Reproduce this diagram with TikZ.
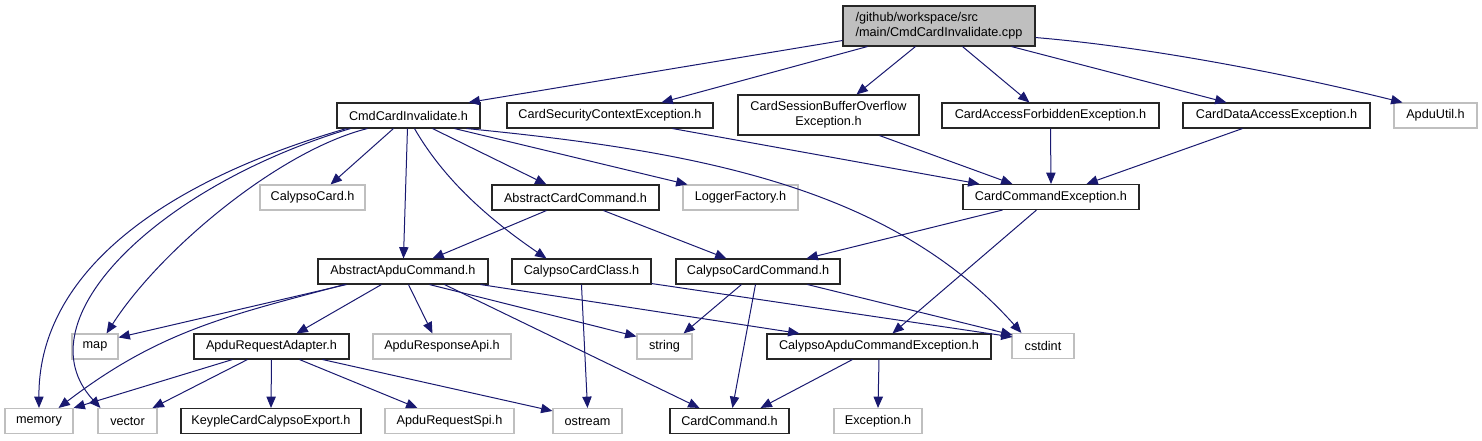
\documentclass[tikz,border=0pt]{standalone}
\usepackage{fontspec}
\setmainfont{Liberation Sans}
\usetikzlibrary{arrows.meta,calc}
\definecolor{edgeblue}{HTML}{191970}
\definecolor{sysgray}{HTML}{BFBFBF}

\tikzset{
  incl/.style={draw=black!85, line width=0.8pt, inner sep=0pt, minimum height=18.75pt},
  sysincl/.style={draw=sysgray, line width=0.8pt, inner sep=0pt, minimum height=18.75pt},
  dep/.style={draw=edgeblue, line width=0.75pt, -{Triangle[length=8.5pt,width=7pt]}}
}

\begin{document}
\begin{tikzpicture}[x=0.75pt,y=-0.75pt,font=\fontsize{9.5}{11}\selectfont]
  \useasboundingbox (0,0) rectangle (1482,440);
  % the file itself
  \node[incl, fill=sysgray, minimum width=144pt, minimum height=30pt, align=left] (root) at (939,26)
    {/github/workspace/src\\/main/CmdCardInvalidate.cpp};
  \node[incl, minimum width=135.75pt, minimum height=30pt, align=center] (csbo) at (828.5,115)
    {CardSessionBufferOverflow\\Exception.h};
  % project headers: name/x/y/width(pt)/label
  \foreach \nm/\x/\y/\w/\lbl in {
    cmdh/408.5/115.5/107.25/CmdCardInvalidate.h,
    cscex/610/115.5/154.5/CardSecurityContextException.h,
    cafex/1050.5/115.5/162.75/CardAccessForbiddenException.h,
    cdaex/1276.5/115.5/140.25/CardDataAccessException.h,
    acc/575.5/197.5/125.25/AbstractCardCommand.h,
    ccex/1051/197/132/CardCommandException.h,
    aac/403/271.5/127.5/AbstractApduCommand.h,
    cccls/581.5/271.5/104.25/CalypsoCardClass.h,
    cccmd/758/271.5/123/CalypsoCardCommand.h,
    ara/271.5/346.5/116.25/ApduRequestAdapter.h,
    cace/879/346.5/168/CalypsoApduCommandException.h,
    kcce/271/421/135/KeypleCardCalypsoExport.h,
    cardcmd/729.5/421/89.25/CardCommand.h} {
    \node[incl, minimum width=\w pt] (\nm) at (\x,\y) {\lbl};
  }
  % headers without documentation
  \foreach \nm/\x/\y/\w/\lbl in {
    apduutil/1435.5/115.5/62.25/ApduUtil.h,
    calypsocard/312.5/197.5/78.75/CalypsoCard.h,
    logger/740.5/197.5/86.25/LoggerFactory.h,
    map/95/346.5/34.5/map,
    aresp/442/346.5/103.5/ApduResponseApi.h,
    string/664.5/346.5/41.25/string,
    cstdint/1043/346/46.5/cstdint,
    memory/39/421/51/memory,
    vector/127.5/421/44.25/vector,
    arspi/449.5/421/96.75/ApduRequestSpi.h,
    ostream/587.5/421/51.75/ostream,
    exception/878/421/66/Exception.h} {
    \node[sysincl, minimum width=\w pt] (\nm) at (\x,\y) {\lbl};
  }

  % from the cpp file
  \draw[dep] ($(root.south west)+(0,-6)$) -- ($(cmdh.north east)+(-12,0)$);
  \draw[dep] ($(root.south west)+(25,0)$) -- ($(cscex.north west)+(155,0)$);
  \draw[dep] ($(root.south west)+(73,0)$) -- ($(csbo.north west)+(119,0)$);
  \draw[dep] ($(root.south west)+(120,0)$) -- ($(cafex.north west)+(88,0)$);
  \draw[dep] ($(root.south west)+(169,0)$) -- ($(cdaex.north west)+(44,0)$);
  \draw[dep] ($(root.south east)+(0,-9)$) .. controls +(120,10) and +(-100,-25) .. ($(apduutil.north west)+(9,0)$);

  % CmdCardInvalidate.h
  \draw[dep] ($(cmdh.south west)+(10,0)$) .. controls +(-197,57) and +(-1,-128) .. (memory.north);
  \draw[dep] ($(cmdh.south west)+(14,0)$) .. controls +(-191,57) and +(-81,-88) .. ($(vector.north west)+(3,0)$);
  \draw[dep] ($(cmdh.south west)+(31,0)$) .. controls +(-88,22) and +(54,-84) .. ($(map.north east)+(-12,0)$);
  \draw[dep] ($(cmdh.south west)+(57,0)$) -- ($(calypsocard.north east)+(-35,0)$);
  \draw[dep] ($(cmdh.south west)+(71,0)$) -- ($(aac.north west)+(86,0)$);
  \draw[dep] ($(cmdh.south west)+(78,0)$) .. controls +(30,52) and +(-57,-39) .. ($(cccls.north west)+(35,0)$);
  \draw[dep] ($(cmdh.south west)+(96,0)$) -- ($(acc.north west)+(55,0)$);
  \draw[dep] ($(cmdh.south west)+(118,0)$) -- ($(logger.north west)+(5,0)$);
  \draw[dep] ($(cmdh.south east)+(-14,0)$) .. controls +(224,22) and +(-132,-148) .. ($(cstdint.north west)+(10,0)$);

  % exceptions
  \draw[dep] ($(cscex.south west)+(166,0)$) -- ($(ccex.north west)+(17,0)$);
  \draw[dep] ($(csbo.south west)+(142,0)$) -- ($(ccex.north west)+(50,0)$);
  \draw[dep] (cafex.south) -- (ccex.north);
  \draw[dep] ($(cdaex.south west)+(60,0)$) -- ($(ccex.north west)+(124,0)$);
  \draw[dep] ($(ccex.south west)+(40,0)$) -- ($(cccmd.north west)+(131,0)$);
  \draw[dep] ($(ccex.south west)+(74,0)$) -- ($(cace.north west)+(126,0)$);

  % AbstractCardCommand.h
  \draw[dep] ($(acc.south west)+(55,0)$) -- ($(aac.north west)+(115,0)$);
  \draw[dep] ($(acc.south west)+(112,0)$) -- ($(cccmd.north west)+(51,0)$);

  % AbstractApduCommand.h
  \draw[dep] ($(aac.south west)+(29,0)$) -- ($(map.north east)+(0,4)$);
  \draw[dep] ($(aac.south west)+(27,0)$) .. controls +(-115,31) and +(102,-78) .. ($(memory.north east)+(-15,0)$);
  \draw[dep] ($(aac.south west)+(64,0)$) -- ($(ara.north west)+(103,0)$);
  \draw[dep] ($(aac.south west)+(91,0)$) -- ($(aresp.north west)+(60,0)$);
  \draw[dep] ($(aac.south west)+(112,0)$) -- ($(string.north west)+(0,3)$);
  \draw[dep] ($(aac.south west)+(127,0)$) -- ($(cardcmd.north west)+(30,0)$);
  \draw[dep] ($(aac.south east)+(-8,0)$) -- ($(cace.north west)+(33,0)$);

  % CalypsoCardClass.h and CalypsoCardCommand.h
  \draw[dep] ($(cccls.south west)+(70,0)$) -- (ostream.north);
  \draw[dep] ($(cccls.south east)+(0,-1)$) -- ($(cstdint.north west)+(1,4)$);
  \draw[dep] ($(cccmd.south west)+(66,0)$) -- ($(string.north east)+(-9,0)$);
  \draw[dep] ($(cccmd.south west)+(80,0)$) -- ($(cardcmd.north west)+(63,0)$);
  \draw[dep] ($(cccmd.south west)+(132,0)$) -- ($(cstdint.north west)+(1,2)$);

  % ApduRequestAdapter.h
  \draw[dep] ($(ara.south west)+(39,0)$) -- (memory.north east);
  \draw[dep] ($(ara.south west)+(54,0)$) -- ($(vector.north east)+(-5,0)$);
  \draw[dep] (ara.south) -- (kcce.north);
  \draw[dep] ($(ara.south west)+(106,0)$) -- ($(arspi.north west)+(33,0)$);
  \draw[dep] ($(ara.south east)+(-27,0)$) -- ($(ostream.north west)+(0,3)$);

  % CalypsoApduCommandException.h
  \draw[dep] ($(cace.south west)+(86,0)$) -- ($(cardcmd.north east)+(-29,0)$);
  \draw[dep] (cace.south) -- (exception.north);
\end{tikzpicture}
\end{document}
